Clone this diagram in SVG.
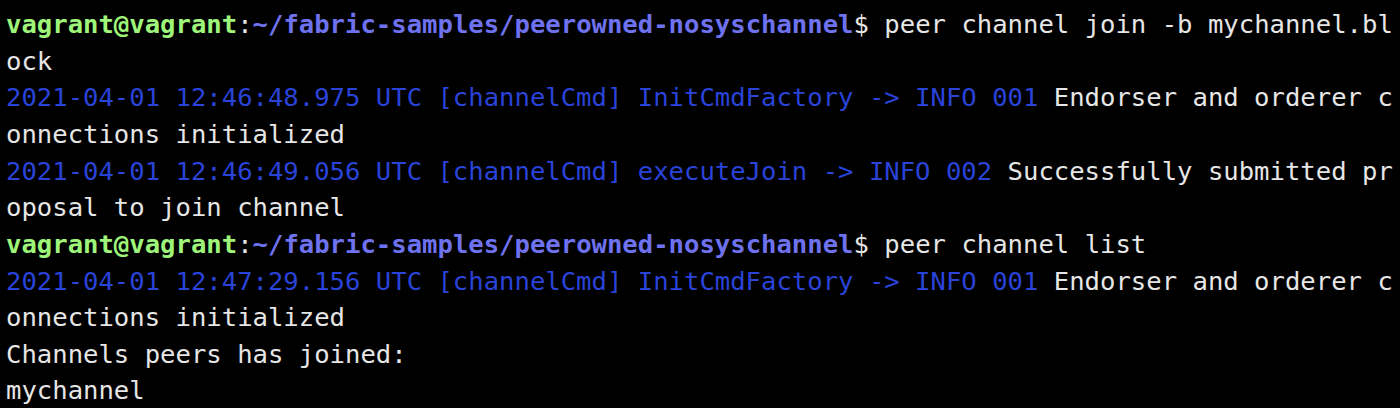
<svg xmlns="http://www.w3.org/2000/svg" width="1400" height="408" viewBox="0 0 1400 408">
<style>
text{font-family:"DejaVu Sans Mono","Liberation Mono",monospace;font-size:25.6px;fill:#e6e6e6;white-space:pre}
.u{fill:#9ef57a;font-weight:bold}
.p{fill:#6e72ee;font-weight:bold}
.b{fill:#2a43d8}
</style>
<rect width="1400" height="408" fill="#000"/>
<g id="terminal">
<text x="6" y="33" xml:space="preserve"><tspan class="u">vagrant@vagrant</tspan>:<tspan class="p">~/fabric-samples/peerowned-nosyschannel</tspan>$ peer channel join -b mychannel.bl</text>
<text x="6" y="70">ock</text>
<text x="6" y="106" xml:space="preserve"><tspan class="b">2021-04-01 12:46:48.975 UTC [channelCmd] InitCmdFactory -&gt; INFO 001</tspan> Endorser and orderer c</text>
<text x="6" y="143">onnections initialized</text>
<text x="6" y="180" xml:space="preserve"><tspan class="b">2021-04-01 12:46:49.056 UTC [channelCmd] executeJoin -&gt; INFO 002</tspan> Successfully submitted pr</text>
<text x="6" y="216">oposal to join channel</text>
<text x="6" y="253" xml:space="preserve"><tspan class="u">vagrant@vagrant</tspan>:<tspan class="p">~/fabric-samples/peerowned-nosyschannel</tspan>$ peer channel list</text>
<text x="6" y="290" xml:space="preserve"><tspan class="b">2021-04-01 12:47:29.156 UTC [channelCmd] InitCmdFactory -&gt; INFO 001</tspan> Endorser and orderer c</text>
<text x="6" y="326">onnections initialized</text>
<text x="6" y="363">Channels peers has joined:</text>
<text x="6" y="399">mychannel</text>
</g>
</svg>
